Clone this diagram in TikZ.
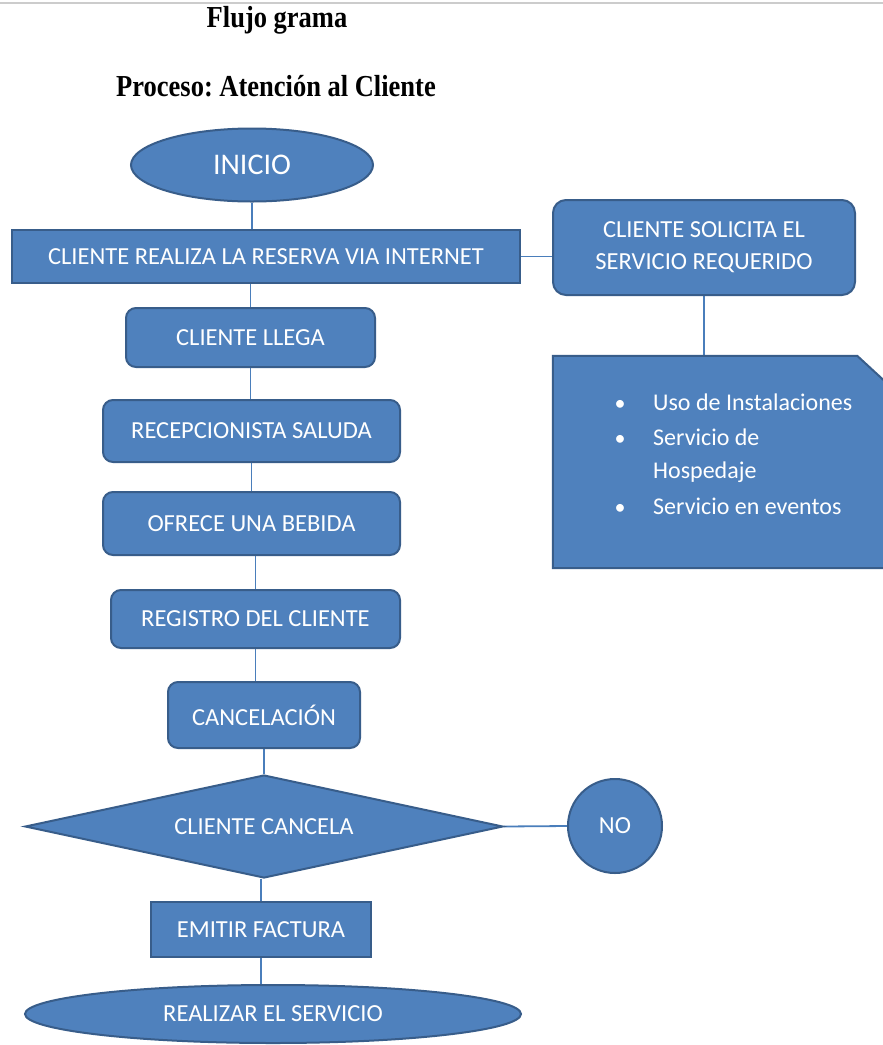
\documentclass[tikz,border=0pt]{standalone}
\usepackage{fontspec}
\usepackage{graphicx}
\setmainfont{Carlito}
\newfontfamily\titlefont{Liberation Serif}
\usetikzlibrary{shapes.geometric,backgrounds}
\definecolor{boxfill}{RGB}{79,129,189}
\definecolor{boxline}{RGB}{56,93,138}
\definecolor{linkblue}{RGB}{74,126,187}
\frenchspacing
\begin{document}
\begin{tikzpicture}[x=1pt,y=-1pt,
  base/.style={fill=boxfill, draw=boxline, line width=2pt, text=white, inner sep=0pt, font=\fontsize{24.5}{32}\selectfont, align=center},
  sqbox/.style={base, rectangle},
  rbox/.style={base, rectangle, rounded corners=10pt},
  term/.style={base, ellipse},
  link/.style={draw=linkblue, line width=1.8pt},
  listtext/.style={text=white, inner sep=0pt, anchor=base west, font=\fontsize{24}{28}\selectfont},
  bul/.style={text=white, inner sep=0pt, anchor=base, font=\fontsize{22}{24}\selectfont},
  title/.style={font=\titlefont\bfseries\fontsize{26.5}{30}\selectfont, inner sep=0pt}]
\useasboundingbox (0,0) rectangle (883,1045);

% titles
\node[title] (t1) at (277,20) {\scalebox{1}[1.15]{Flujo grama}};
\node[title] (t2) at (276,86) {\scalebox{1}[1.15]{Proceso: Atención al Cliente}};

% main column
\node[term, minimum width=242pt, minimum height=73pt, font=\fontsize{30}{36}\selectfont] (inicio) at (252,165) {INICIO};
\node[sqbox, minimum width=508pt, minimum height=53pt] (reserva) at (266,256.5) {CLIENTE REALIZA LA RESERVA VIA INTERNET};
\node[rbox, minimum width=249pt, minimum height=59pt] (llega) at (250.5,337.5) {CLIENTE LLEGA};
\node[rbox, minimum width=297pt, minimum height=62pt] (saluda) at (251.5,431) {RECEPCIONISTA SALUDA};
\node[rbox, minimum width=297pt, minimum height=63pt] (bebida) at (251.5,523.5) {OFRECE UNA BEBIDA};
\node[rbox, minimum width=289pt, minimum height=58pt] (registro) at (255.5,619) {REGISTRO DEL CLIENTE};
\node[rbox, minimum width=192pt, minimum height=66pt] (cancel) at (264,715) {CANCELACIÓN};
\node[base, diamond, aspect=4.64, minimum width=478pt, minimum height=103pt] (dec) at (264,826.5) {CLIENTE CANCELA};
\node[base, circle, minimum size=94pt] (no) at (615,826) {NO};
\node[sqbox, minimum width=220pt, minimum height=55pt] (emitir) at (261,929.5) {EMITIR FACTURA};
\node[term, minimum width=496pt, minimum height=58pt] (realizar) at (273,1014) {REALIZAR EL SERVICIO};

% right column
\node[rbox, rounded corners=13pt, minimum width=302pt, minimum height=95pt] (solicita) at (704,247.5) {CLIENTE SOLICITA EL\\SERVICIO REQUERIDO};
\node[inner sep=0pt, minimum width=342pt, minimum height=212pt] (svc) at (724,462) {};
\draw[fill=boxfill, draw=boxline, line width=2pt] (svc.south west) -- (svc.north west) -- ([xshift=-38pt]svc.north east) -- ([yshift=-35pt]svc.north east) -- (svc.south east) -- cycle;
\node[bul] (b1) at (620,410) {\textbullet};
\node[bul] (b2) at (620,445) {\textbullet};
\node[bul] (b3) at (620,514) {\textbullet};
\node[listtext] (l1) at (653,410) {Uso de Instalaciones};
\node[listtext] (l2) at (653,445) {Servicio de};
\node[listtext] (l3) at (653,478) {Hospedaje};
\node[listtext] (l4) at (653,514) {Servicio en eventos};

% connectors and page background
\begin{scope}[on background layer]
\fill[white] (0,0) rectangle (883,1045);
\draw[black!20, line width=1.5pt] (0,3) -- (883,3);
\draw[link] (inicio.south) -- (inicio.south |- reserva.north);
\draw[link] (llega.north) -- (llega.north |- reserva.south);
\draw[link] (llega.south) -- (llega.south |- saluda.north);
\draw[link] (saluda.south) -- (saluda.south |- bebida.north);
\draw[link] (registro.north) -- (registro.north |- bebida.south);
\draw[link] (registro.south) -- (registro.south |- cancel.north);
\draw[link] (cancel.south) -- (dec.north);
\draw[link] (dec.east) -- (no.west);
\draw[link] (emitir.north) -- (emitir.north |- dec.south);
\draw[link] (emitir.south) -- (emitir.south |- realizar.north);
\draw[link] (reserva.east) -- (reserva.east -| solicita.west);
\draw[link] (solicita.south) -- (solicita.south |- svc.north);
\end{scope}
\end{tikzpicture}
\end{document}
